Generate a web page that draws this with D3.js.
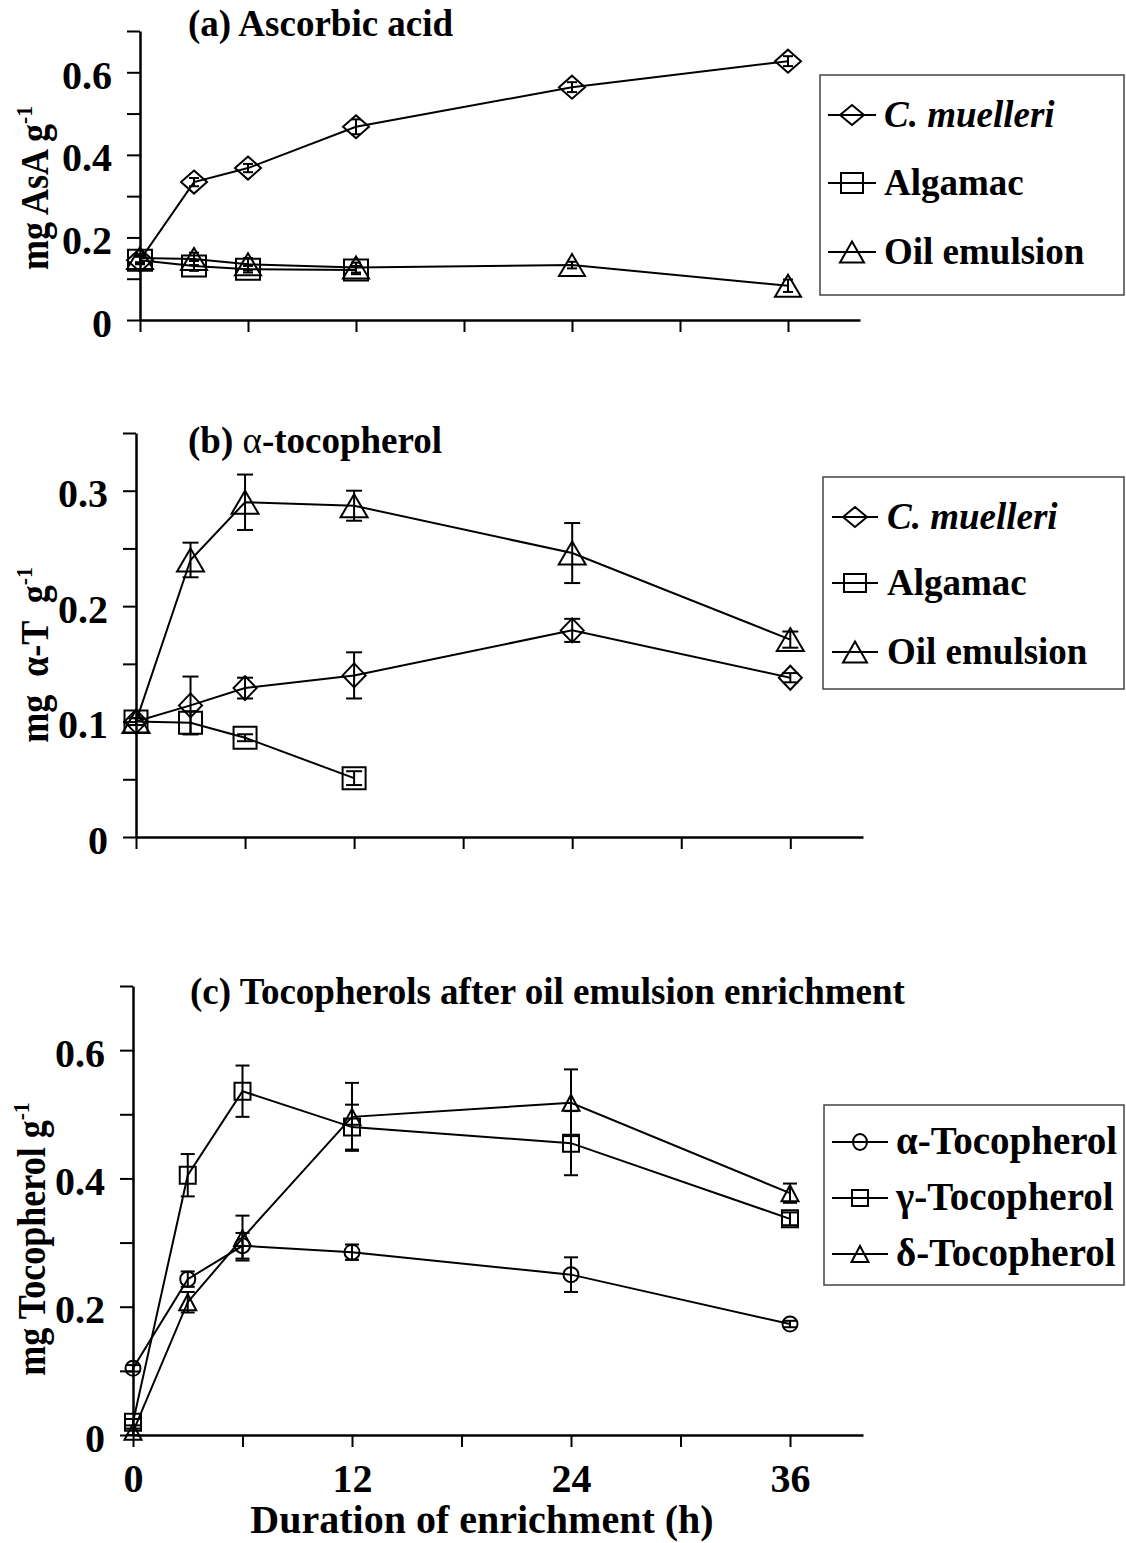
<!DOCTYPE html>
<html>
<head>
<meta charset="utf-8">
<script src="https://cdn.jsdelivr.net/npm/d3@7"></script>
<style>
  html, body { margin: 0; padding: 0; background: #fff; }
  svg { display: block; }
  text { font-family: "Liberation Serif", "Times New Roman", serif; font-weight: bold; fill: #000; }
</style>
</head>
<body>
<svg id="chart" width="1126" height="1543"></svg>
<script>
// Sampling times (h)
const hours = [0, 3, 6, 12, 24, 36];
const hoursAlgamac = [0, 3, 6, 12];
const xTicks = [0, 6, 12, 18, 24, 30, 36];
const xTickLabels = [0, 12, 24, 36];

// (a) Ascorbic acid, mg AsA g-1 (mean, s.e.)
const ascMuelleri = [0.145, 0.334, 0.368, 0.468, 0.564, 0.627];
const ascMuelleriErr = [0.008, 0.01, 0.01, 0.018, 0.012, 0.012];
const ascAlgamac = [0.145, 0.131, 0.123, 0.121];
const ascAlgamacErr = [0.01, 0.012, 0.008, 0.01];
const ascOil = [0.15, 0.148, 0.135, 0.127, 0.133, 0.083];
const ascOilErr = [0.01, 0.015, 0.015, 0.012, 0.008, 0.015];
const ascTicks = [0, 0.1, 0.2, 0.3, 0.4, 0.5, 0.6, 0.7];
const ascTickLabels = [0, 0.2, 0.4, 0.6];

// (b) alpha-tocopherol, mg α-T g-1
const atMuelleri = [0.1, 0.114, 0.129, 0.140, 0.179, 0.138];
const atMuelleriErr = [0.003, 0.025, 0.009, 0.02, 0.01, 0.004];
const atAlgamac = [0.1, 0.099, 0.086, 0.051];
const atAlgamacErr = [0.003, 0.01, 0.003, 0.006];
const atOil = [0.1, 0.240, 0.290, 0.287, 0.246, 0.171];
const atOilErr = [0.003, 0.015, 0.024, 0.013, 0.026, 0.007];
const atTicks = [0, 0.05, 0.1, 0.15, 0.2, 0.25, 0.3, 0.35];
const atTickLabels = [0, 0.1, 0.2, 0.3];

// (c) Tocopherols after oil emulsion enrichment, mg Tocopherol g-1
const tocAlpha = [0.104, 0.243, 0.295, 0.285, 0.250, 0.173];
const tocAlphaErr = [0.005, 0.012, 0.02, 0.012, 0.027, 0.005];
const tocGamma = [0.02, 0.405, 0.536, 0.48, 0.455, 0.337];
const tocGammaErr = [0.005, 0.033, 0.04, 0.035, 0.05, 0.01];
const tocDelta = [0.005, 0.207, 0.307, 0.496, 0.518, 0.377];
const tocDeltaErr = [0.005, 0.016, 0.035, 0.053, 0.052, 0.015];
const tocTicks = [0, 0.1, 0.2, 0.3, 0.4, 0.5, 0.6, 0.7];
const tocTickLabels = [0, 0.2, 0.4, 0.6];

const svg = d3.select("#chart");

// Marker outlines centred on the data point
function markerPath(shape, w, h) {
  const a = w / 2, b = h / 2;
  if (shape === "diamond") return `M0,${-b}L${a},0L0,${b}L${-a},0Z`;
  if (shape === "square") return `M${-a},${-b}H${a}V${b}H${-a}Z`;
  if (shape === "triangle") return `M0,${-b}L${a},${b}L${-a},${b}Z`;
  if (shape === "circle") return `M${-a},0A${a},${b} 0 1,0 ${a},0A${a},${b} 0 1,0 ${-a},0Z`;
}

function drawPanel(cfg) {
  const g = svg.append("g");
  const x = d3.scaleLinear().domain([0, 40]).range([cfg.x0, cfg.x1]);
  const y = d3.scaleLinear().domain([0, cfg.yMax]).range([cfg.y0, cfg.y1]);

  // y axis
  const yAxis = d3.axisLeft(y).tickValues(cfg.yTicks).tickSize(13).tickSizeOuter(0).tickPadding(15)
    .tickFormat(d => cfg.yLabels.some(v => Math.abs(v - d) < 1e-9) ? (d === 0 ? "0" : d3.format(".1f")(d)) : "");
  const ya = g.append("g").attr("transform", `translate(${cfg.x0},0)`).call(yAxis);
  ya.attr("font-family", null).attr("font-size", null);
  ya.select(".domain").attr("stroke-width", 2.5).attr("stroke", "#000");
  ya.selectAll(".tick line").attr("stroke-width", 2).attr("stroke", "#000");
  ya.selectAll(".tick text").style("font-size", "40px").attr("fill", "#000").attr("dy", "0.4em");

  // x axis
  const xAxis = d3.axisBottom(x).tickValues(xTicks).tickSize(12).tickSizeOuter(0).tickPadding(17)
    .tickFormat(d => cfg.xLabels && xTickLabels.includes(d) ? String(d) : "");
  const xa = g.append("g").attr("transform", `translate(0,${cfg.y0})`).call(xAxis);
  xa.attr("font-family", null).attr("font-size", null);
  xa.select(".domain").attr("stroke-width", 2.5).attr("stroke", "#000");
  xa.selectAll(".tick line").attr("stroke-width", 2).attr("stroke", "#000");
  xa.selectAll(".tick text").style("font-size", "40px").attr("fill", "#000");

  // series
  cfg.series.forEach(s => {
    const pts = s.t.map((t, i) => ({ t, v: s.v[i], e: s.e[i] }));
    const line = d3.line().x(d => x(d.t)).y(d => y(d.v));
    g.append("path").datum(pts).attr("d", line)
      .attr("fill", "none").attr("stroke", "#000").attr("stroke-width", 2);
    // error bars
    const eb = g.append("g").attr("stroke", "#000").attr("stroke-width", 2);
    pts.forEach(d => {
      const cx = x(d.t), yt = y(d.v + d.e), yb = y(d.v - d.e), c = cfg.cap / 2;
      eb.append("line").attr("x1", cx).attr("x2", cx).attr("y1", yt).attr("y2", yb);
      eb.append("line").attr("x1", cx - c).attr("x2", cx + c).attr("y1", yt).attr("y2", yt);
      eb.append("line").attr("x1", cx - c).attr("x2", cx + c).attr("y1", yb).attr("y2", yb);
    });
    // markers
    g.append("g").selectAll("path").data(pts).join("path")
      .attr("transform", d => `translate(${x(d.t)},${y(d.v)})`)
      .attr("d", markerPath(s.shape, s.w, s.h))
      .attr("fill", "none").attr("stroke", "#000").attr("stroke-width", 2);
  });

  // panel title
  const title = g.append("text").attr("x", cfg.titleX).attr("y", cfg.titleY).style("font-size", "37px");
  cfg.title.forEach(part => {
    const ts = title.append("tspan").text(part.text);
    if (part.normal) ts.style("font-weight", "normal");
  });

  // y axis label (rotated, slightly condensed, with superscript)
  const yl = g.append("text")
    .attr("transform", `translate(${cfg.ylabX},${cfg.ylabY}) rotate(-90) scale(0.9,1)`)
    .attr("text-anchor", "middle").style("font-size", "40px").style("white-space", "pre");
  yl.append("tspan").text(cfg.ylab);
  yl.append("tspan").text("-1").style("font-size", "24px").attr("dy", "-16");

  // legend
  const L = cfg.legend;
  g.append("rect").attr("x", L.x).attr("y", L.y).attr("width", L.w).attr("height", L.h)
    .attr("fill", "none").attr("stroke", "#444").attr("stroke-width", 1.5);
  L.items.forEach((it, i) => {
    const cy = L.rows[i];
    g.append("line").attr("x1", L.lx0).attr("x2", L.lx1).attr("y1", cy).attr("y2", cy)
      .attr("stroke", "#000").attr("stroke-width", 2);
    g.append("path").attr("transform", `translate(${(L.lx0 + L.lx1) / 2},${cy})`)
      .attr("d", markerPath(it.shape, it.w, it.h))
      .attr("fill", "none").attr("stroke", "#000").attr("stroke-width", 2);
    const t = g.append("text").attr("x", L.tx).attr("y", cy + 12).style("font-size", L.fs + "px").text(it.label);
    if (it.italic) t.style("font-style", "italic");
  });
  return { x, y };
}

// (a)
drawPanel({
  x0: 140, x1: 860, y0: 320, y1: 31, yMax: 0.7,
  yTicks: ascTicks, yLabels: ascTickLabels, xLabels: false, cap: 10,
  title: [{ text: "(a) Ascorbic acid" }], titleX: 188, titleY: 36,
  ylab: "mg AsA g", ylabX: 48, ylabY: 188,
  series: [
    { t: hours, v: ascMuelleri, e: ascMuelleriErr, shape: "diamond", w: 26, h: 23 },
    { t: hoursAlgamac, v: ascAlgamac, e: ascAlgamacErr, shape: "square", w: 24, h: 21 },
    { t: hours, v: ascOil, e: ascOilErr, shape: "triangle", w: 26, h: 22 }
  ],
  legend: {
    x: 820, y: 75, w: 304, h: 220, lx0: 828, lx1: 876, tx: 884, fs: 37, rows: [115, 183, 252],
    items: [
      { label: "C. muelleri", italic: true, shape: "diamond", w: 24, h: 20 },
      { label: "Algamac", shape: "square", w: 22, h: 20 },
      { label: "Oil emulsion", shape: "triangle", w: 24, h: 21 }
    ]
  }
});

// (b)
drawPanel({
  x0: 136, x1: 863, y0: 837, y1: 433, yMax: 0.35,
  yTicks: atTicks, yLabels: atTickLabels, xLabels: false, cap: 16,
  title: [{ text: "(b) " }, { text: "α", normal: true }, { text: "-tocopherol" }], titleX: 188, titleY: 453,
  ylab: "mg  α-T  g", ylabX: 48, ylabY: 655,
  series: [
    { t: hours, v: atMuelleri, e: atMuelleriErr, shape: "diamond", w: 23, h: 24 },
    { t: hoursAlgamac, v: atAlgamac, e: atAlgamacErr, shape: "square", w: 23, h: 22 },
    { t: hours, v: atOil, e: atOilErr, shape: "triangle", w: 27, h: 23 }
  ],
  legend: {
    x: 823, y: 477, w: 301, h: 212, lx0: 832, lx1: 878, tx: 887, fs: 37, rows: [517, 583, 652],
    items: [
      { label: "C. muelleri", italic: true, shape: "diamond", w: 24, h: 20 },
      { label: "Algamac", shape: "square", w: 22, h: 18 },
      { label: "Oil emulsion", shape: "triangle", w: 24, h: 21 }
    ]
  }
});

// (c)
drawPanel({
  x0: 133, x1: 863, y0: 1435, y1: 986, yMax: 0.7,
  yTicks: tocTicks, yLabels: tocTickLabels, xLabels: true, cap: 14,
  title: [{ text: "(c) Tocopherols after oil emulsion enrichment" }], titleX: 190, titleY: 1004,
  ylab: "mg Tocopherol g", ylabX: 45, ylabY: 1239,
  series: [
    { t: hours, v: tocAlpha, e: tocAlphaErr, shape: "circle", w: 15, h: 15 },
    { t: hours, v: tocGamma, e: tocGammaErr, shape: "square", w: 16, h: 17 },
    { t: hours, v: tocDelta, e: tocDeltaErr, shape: "triangle", w: 17, h: 16 }
  ],
  legend: {
    x: 824, y: 1105, w: 300, h: 180, lx0: 832, lx1: 888, tx: 896, fs: 39, rows: [1142, 1198, 1254],
    items: [
      { label: "α-Tocopherol", shape: "circle", w: 14, h: 16 },
      { label: "γ-Tocopherol", shape: "square", w: 16, h: 16 },
      { label: "δ-Tocopherol", shape: "triangle", w: 17, h: 16 }
    ]
  }
});

// x axis title
svg.append("text").attr("x", 482).attr("y", 1533).attr("text-anchor", "middle")
  .style("font-size", "40px").text("Duration of enrichment (h)");
</script>
</body>
</html>
